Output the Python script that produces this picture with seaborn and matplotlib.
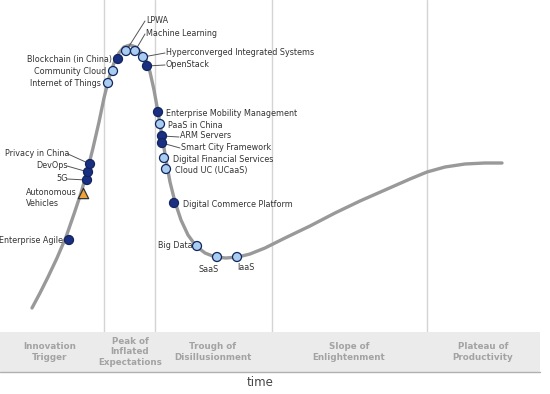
import numpy as np
import pandas as pd
import matplotlib.pyplot as plt
import seaborn as sns

sns.set_theme(style='white')
plt.rcParams['font.family'] = ['DejaVu Sans']

# hype curve (x = time, y = position from top)
curve_x = [32, 40, 48, 57, 66, 74, 81, 87, 93, 99, 104, 109, 114, 119, 124, 130, 136, 141, 146, 150,
           154, 158, 162, 166, 170, 175, 181, 188, 196, 205, 215, 226, 238, 250, 265, 285, 310,
           335, 360, 385, 410, 427, 445, 465, 485, 502]
curve_y = [308, 293, 277, 258, 237, 214, 193, 172, 148, 122, 98, 78, 63, 53, 47, 45, 47, 52, 60, 72,
           90, 112, 136, 160, 182, 202, 220, 235, 246, 253, 257, 258, 257, 254, 248, 238, 226,
           213, 201, 190, 179, 172, 167, 164, 163, 163]

# technologies on the curve
tech_names = ['Enterprise Agile', 'Autonomous Vehicles', '5G', 'DevOps', 'Privacy in China',
              'Internet of Things', 'Community Cloud', 'Blockchain (in China)', 'LPWA',
              'Machine Learning', 'Hyperconverged Integrated Systems', 'OpenStack',
              'Enterprise Mobility Management', 'PaaS in China', 'ARM Servers',
              'Smart City Framework', 'Digital Financial Services', 'Cloud UC (UCaaS)',
              'Digital Commerce Platform', 'Big Data', 'SaaS', 'IaaS']
tech_x = [69, 83, 87, 88, 90, 108, 113, 118, 126, 135, 143, 147, 158, 160, 162, 162, 164, 166,
          174, 197, 217, 237]
tech_y = [240, 193, 180, 172, 164, 83, 71, 59, 51, 51, 57, 66, 112, 124, 136, 143, 158, 169,
          203, 246, 257, 257]
tech_kind = ['dark', 'triangle', 'dark', 'dark', 'dark', 'light', 'light', 'dark', 'light',
             'light', 'light', 'dark', 'dark', 'light', 'dark', 'dark', 'light', 'light',
             'dark', 'light', 'light', 'light']

phases = ['Innovation\nTrigger', 'Peak of\nInflated\nExpectations', 'Trough of\nDisillusionment',
          'Slope of\nEnlightenment', 'Plateau of\nProductivity']
phase_bounds = [104, 155, 272, 427]

# label layout: (text x, text y, ha, leader line?)
label_pos = {
    'Enterprise Agile': (63, 240, 'right', False),
    'Autonomous Vehicles': (26, 198, 'left', False),
    '5G': (68, 178, 'right', True),
    'DevOps': (68, 165, 'right', True),
    'Privacy in China': (69, 153, 'right', True),
    'Internet of Things': (101, 83, 'right', False),
    'Community Cloud': (106, 71, 'right', False),
    'Blockchain (in China)': (112, 59, 'right', False),
    'LPWA': (146, 20, 'left', True),
    'Machine Learning': (146, 33, 'left', True),
    'Hyperconverged Integrated Systems': (166, 52, 'left', True),
    'OpenStack': (166, 64, 'left', True),
    'Enterprise Mobility Management': (166, 113, 'left', False),
    'PaaS in China': (168, 125, 'left', False),
    'ARM Servers': (180, 136, 'left', True),
    'Smart City Framework': (181, 147, 'left', True),
    'Digital Financial Services': (173, 159, 'left', False),
    'Cloud UC (UCaaS)': (175, 170, 'left', False),
    'Digital Commerce Platform': (183, 204, 'left', False),
    'Big Data': (193, 245, 'right', False),
    'SaaS': (209, 269, 'center', False),
    'IaaS': (246, 268, 'center', False),
}
phase_x = [50, 130, 213, 349, 483]

df = pd.DataFrame({'name': tech_names, 'x': tech_x, 'y': tech_y, 'kind': tech_kind})
df['label'] = df['name'].replace({'Autonomous Vehicles': 'Autonomous\nVehicles'})
curve = pd.DataFrame({'x': curve_x, 'y': curve_y})

fig = plt.figure(figsize=(5.5, 3.94), dpi=100)
ax = fig.add_axes([0, 0, 1, 1])

for b in phase_bounds:
    ax.plot([b, b], [0, 332], color='#d4d4d4', lw=1, zorder=0)

# phase band at the bottom
ax.add_patch(plt.Rectangle((0, 332), 540, 40, color='#ebebeb', zorder=1, lw=0))
ax.plot([0, 540], [372, 372], color='#b0b0b0', lw=1, zorder=2)
for name, px in zip(phases, phase_x):
    ax.text(px, 352, name, ha='center', va='center', fontsize=6.3, color='#a3a3a3',
            fontweight='bold', linespacing=1.25, zorder=3)
ax.text(260, 383, 'time', ha='center', va='center', fontsize=8.5, color='#444444')

sns.lineplot(data=curve, x='x', y='y', sort=False, color='#999999', lw=2.4, ax=ax,
             zorder=3, estimator=None)

for name, tx, ty, lab in zip(df['name'], df['x'], df['y'], df['label']):
    lx, ly, ha, leader = label_pos[name]
    if leader:
        ax.plot([tx, lx - 1], [ty, ly + 1], color='#555555', lw=0.7, zorder=4)
    ax.text(lx, ly, lab, ha=ha, va='center', fontsize=5.8, color='#333333', zorder=6,
            linespacing=1.3)

circ = df[df['kind'] != 'triangle']
sns.scatterplot(data=circ, x='x', y='y', hue='kind',
                palette={'dark': '#1b2f82', 'light': '#a9cdf0'},
                edgecolor='#10245e', linewidth=0.9, s=42, legend=False, ax=ax, zorder=5)
tri = df[df['kind'] == 'triangle']
sns.scatterplot(data=tri, x='x', y='y', marker='^', color='#f0a33a', edgecolor='#333333',
                linewidth=0.9, s=55, legend=False, ax=ax, zorder=5)

ax.set_xlim(0, 550)
ax.set_ylim(394, 0)
ax.axis('off')
fig.savefig('out.png', dpi=100)
